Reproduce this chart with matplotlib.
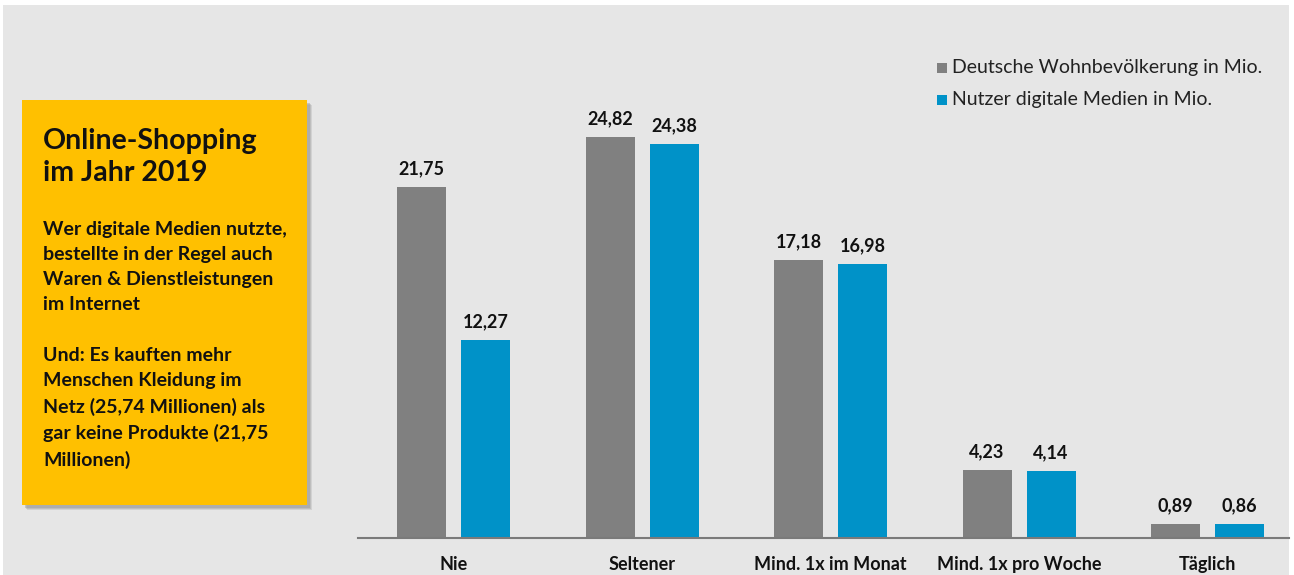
import matplotlib
matplotlib.use("Agg")
import matplotlib.pyplot as plt
from matplotlib.patches import Rectangle
import numpy as np

categories = ["Nie", "Seltener", "Mind. 1x im Monat", "Mind. 1x pro Woche", "Täglich"]
bevoelkerung = [21.75, 24.82, 17.18, 4.23, 0.89]
nutzer = [12.27, 24.38, 16.98, 4.14, 0.86]
series_names = ["Deutsche Wohnbevölkerung in Mio.", "Nutzer digitale Medien in Mio."]
title_text = "Online-Shopping\nim Jahr 2019"
body_text = ("Wer digitale Medien nutzte,\nbestellte in der Regel auch\nWaren & Dienstleistungen\nim Internet\n\n"
             "Und: Es kauften mehr\nMenschen Kleidung im\nNetz (25,74 Millionen) als\ngar keine Produkte (21,75\nMillionen)")

W, H = 1294, 575
FONT = "Lato"
GRAY = "#808080"
BLUE = "#0092C8"
BG = "#E6E6E6"

fig = plt.figure(figsize=(W / 100, H / 100), dpi=100)
fig.patch.set_facecolor("white")
# gray background panel
fig.patches.append(Rectangle((3 / W, 0), (1289 - 3) / W, (575 - 5) / H,
                             transform=fig.transFigure, facecolor=BG, edgecolor="none", zorder=-10))

# axes in pixel coordinates
ax_left, ax_right = 358, 1289
base_y = 538
ax_top = 5
ax = fig.add_axes([ax_left / W, (H - base_y) / H, (ax_right - ax_left) / W, (base_y - ax_top) / H])
ax.set_zorder(5)
ax.set_facecolor("none")

spacing = 188.5
x0 = 453.5
ax.set_xlim((ax_left - x0) / spacing, (ax_right - x0) / spacing)
px_per_unit = (538 - 137) / 24.82
ax.set_ylim(0, (base_y - ax_top) / px_per_unit)

x = np.arange(len(categories))
bw = 49 / spacing
off = 32 / spacing
b1 = ax.bar(x - off, bevoelkerung, width=bw, color=GRAY, zorder=2)
b2 = ax.bar(x + off, nutzer, width=bw, color=BLUE, zorder=2)

for bars, vals in ((b1, bevoelkerung), (b2, nutzer)):
    for r, v in zip(bars, vals):
        ax.annotate(f"{v:.2f}".replace(".", ","), (r.get_x() + r.get_width() / 2, v),
                    xytext=(0, 7), textcoords="offset points", ha="center", va="bottom",
                    fontsize=13, fontweight="bold", family=FONT, color="#111111")

for s in ["top", "right", "left"]:
    ax.spines[s].set_visible(False)
ax.spines["bottom"].set_color("#7a7a7a")
ax.spines["bottom"].set_linewidth(1.5)
ax.set_yticks([])
ax.set_xticks(x)
ax.set_xticklabels(categories, fontsize=13, fontweight="bold", family=FONT, color="#111111")
ax.tick_params(axis="x", length=0, pad=13)

# legend (manual)
for i, (name, col) in enumerate(zip(series_names, [GRAY, BLUE])):
    yc = 68 + i * 32
    fig.patches.append(Rectangle((937 / W, 1 - (yc + 5) / H), 10 / W, 10 / H,
                                 transform=fig.transFigure, facecolor=col, edgecolor="none", zorder=3))
    fig.text(952 / W, 1 - yc / H, name, fontsize=14, family=FONT, color="#222222",
             va="center", ha="left")

# yellow box with soft shadow
bx0, by0, bx1, by1 = 22, 100, 307, 505
for k, a in ((5, 0.25), (4, 0.35), (3, 0.45)):
    fig.patches.append(Rectangle(((bx0 + k) / W, 1 - (by1 + k) / H), (bx1 - bx0) / W, (by1 - by0) / H,
                                 transform=fig.transFigure, facecolor="#999999", edgecolor="none",
                                 zorder=1, alpha=a))
fig.patches.append(Rectangle((bx0 / W, 1 - by1 / H), (bx1 - bx0) / W, (by1 - by0) / H,
                             transform=fig.transFigure, facecolor="#FFC000", edgecolor="none", zorder=2))
fig.text(43 / W, 1 - 128 / H, title_text, fontsize=20.5, fontweight="bold", family=FONT,
         color="#111111", va="top", ha="left", linespacing=1.3, zorder=4)
fig.text(43 / W, 1 - 221 / H, body_text, fontsize=14, fontweight="bold", family=FONT,
         color="#111111", va="top", ha="left", linespacing=1.58, zorder=4)

fig.savefig("out.png", dpi=100, facecolor=fig.get_facecolor())
